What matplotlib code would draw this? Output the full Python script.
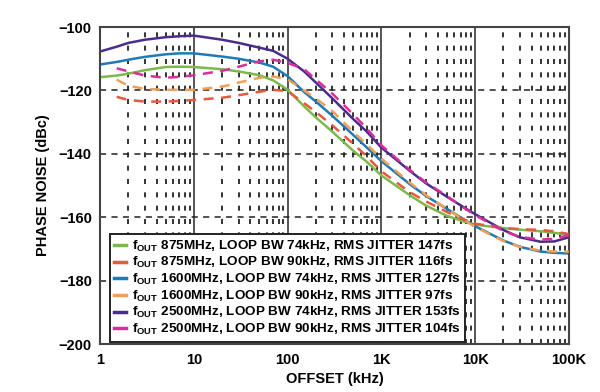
import numpy as np
import matplotlib
matplotlib.use("Agg")
import matplotlib.pyplot as plt
from matplotlib.ticker import FixedLocator, NullFormatter

plt.rcParams['font.family'] = ['Liberation Sans', 'DejaVu Sans']
plt.rcParams['font.weight'] = 'bold'
plt.rcParams['mathtext.fontset'] = 'custom'
plt.rcParams['mathtext.rm'] = 'Liberation Sans:bold'
plt.rcParams['mathtext.it'] = 'Liberation Sans:bold'
plt.rcParams['mathtext.bf'] = 'Liberation Sans:bold'

nan = np.nan
offset_khz = [1, 1.5, 2, 3, 5, 7, 10, 20, 30, 50, 70, 100, 150, 200, 300, 500, 700,
              1000, 2000, 3000, 5000, 7000, 10000, 20000, 30000, 50000, 70000, 100000]

pn_875_74 = [-115.8, -115.3, -114.7, -113.6, -112.6, -112.5, -112.6, -113.3, -114.0, -115.2,
             -116.8, -119.8, -125.0, -128.5, -133.0, -139.0, -142.5, -146.8, -153.0, -156.3,
             -159.5, -161.0, -162.3, -163.4, -163.9, -164.4, -164.9, -165.5]
pn_875_90 = [nan, -122.0, -123.0, -123.5, -123.5, -123.3, -123.0, -122.3, -121.5, -120.4,
             -119.8, -120.2, -124.0, -126.8, -131.0, -136.8, -140.8, -145.5, -152.0, -155.0,
             -158.3, -160.3, -162.0, -163.4, -163.7, -164.0, -164.4, -165.3]
pn_1600_74 = [-111.8, -111.0, -110.3, -109.4, -108.6, -108.3, -108.3, -109.3, -110.0, -111.2,
              -112.5, -115.5, -120.5, -123.5, -128.0, -134.0, -138.0, -142.3, -149.5, -153.3,
              -157.3, -160.0, -162.8, -167.3, -169.3, -170.8, -171.2, -171.4]
pn_1600_90 = [nan, -116.6, -118.5, -119.5, -119.8, -119.8, -119.8, -118.8, -117.5, -116.0,
              -115.6, -116.5, -120.0, -122.5, -126.5, -133.0, -137.0, -141.5, -149.0, -153.0,
              -157.3, -160.2, -163.0, -167.5, -169.3, -170.5, -170.8, -170.8]
pn_2500_74 = [-107.7, -106.2, -105.0, -104.0, -103.2, -102.9, -102.7, -104.0, -105.0, -106.5,
              -107.5, -110.0, -114.0, -117.5, -122.5, -129.0, -133.0, -138.0, -145.3, -149.3,
              -153.5, -156.2, -159.0, -164.0, -166.3, -167.7, -167.6, -166.3]
pn_2500_90 = [nan, -113.0, -114.0, -115.3, -116.0, -115.7, -115.2, -113.8, -112.5, -110.8,
              -110.3, -111.3, -113.3, -116.5, -121.0, -127.5, -132.0, -137.3, -145.0, -149.0,
              -153.3, -156.3, -159.3, -164.3, -166.2, -167.0, -166.8, -165.6]

labels = [
    r"$f_{OUT}$ 875MHz, LOOP BW 74kHz, RMS JITTER 147fs",
    r"$f_{OUT}$ 875MHz, LOOP BW 90kHz, RMS JITTER 116fs",
    r"$f_{OUT}$ 1600MHz, LOOP BW 74kHz, RMS JITTER 127fs",
    r"$f_{OUT}$ 1600MHz, LOOP BW 90kHz, RMS JITTER 97fs",
    r"$f_{OUT}$ 2500MHz, LOOP BW 74kHz, RMS JITTER 153fs",
    r"$f_{OUT}$ 2500MHz, LOOP BW 90kHz, RMS JITTER 104fs",
]
series = [pn_875_74, pn_875_90, pn_1600_74, pn_1600_90, pn_2500_74, pn_2500_90]
colors = ['#7cb84a', '#e9573d', '#1f7bb5', '#f2a057', '#4a2d8a', '#d8309a']
dashed = [False, True, False, True, False, True]

x_ticks = [1, 10, 100, 1000, 10000, 100000]
x_ticklabels = ['1', '10', '100', '1K', '10K', '100K']
y_ticks = [-200, -180, -160, -140, -120, -100]

fig = plt.figure(figsize=(6.0, 3.92), dpi=100)
ax = fig.add_axes([0.167, 0.122, 0.781, 0.809])
ax.set_xscale('log')
ax.set_xlim(1, 100000)
ax.set_ylim(-200, -100)

# grid: solid decades, short-dash minors, dashed horizontals
minors = [m * 10 ** d for d in range(5) for m in range(2, 10)]
for xv in minors:
    ax.axvline(xv, color='#111111', lw=1.2, ls=(0, (3.0, 5.0)), zorder=1)
for xv in x_ticks[1:-1]:
    ax.axvline(xv, color='#555555', lw=1.4, zorder=1)
for yv in y_ticks[1:-1]:
    ax.axhline(yv, color='#222222', lw=1.1, ls=(0, (4, 3.5)), zorder=1)

for vals, lab, c, d in zip(series, labels, colors, dashed):
    ax.plot(offset_khz, vals, color=c, lw=1.8,
            ls=(0, (4, 3)) if d else '-', label=lab, zorder=3 if d else 2)

ax.xaxis.set_major_locator(FixedLocator(x_ticks))
ax.set_xticklabels(x_ticklabels)
ax.xaxis.set_minor_formatter(NullFormatter())
ax.set_yticks(y_ticks)
ax.set_yticklabels([str(v).replace('-', '\u2212') for v in y_ticks])
ax.tick_params(which='both', length=0, labelsize=10.5, pad=6)

for sp in ax.spines.values():
    sp.set_color('#444444')
    sp.set_linewidth(1.5)

ax.set_xlabel('OFFSET (kHz)', fontsize=10.5, fontweight='bold', labelpad=4)
ax.set_ylabel('PHASE NOISE (dBc)', fontsize=10.5, fontweight='bold', labelpad=6)

leg = ax.legend(loc='upper left', bbox_to_anchor=(0.02, 0.348), borderaxespad=0,
                fontsize=9.7, frameon=True, fancybox=False, handlelength=0.9,
                handletextpad=0.4, labelspacing=0.12, borderpad=0.35)
leg.get_frame().set_edgecolor('#222222')
leg.get_frame().set_linewidth(1.4)
leg.get_frame().set_alpha(1)
for h in leg.get_lines():
    h.set_linestyle('-')
    h.set_linewidth(2.5)

fig.savefig('out.png', dpi=100, facecolor='white')
